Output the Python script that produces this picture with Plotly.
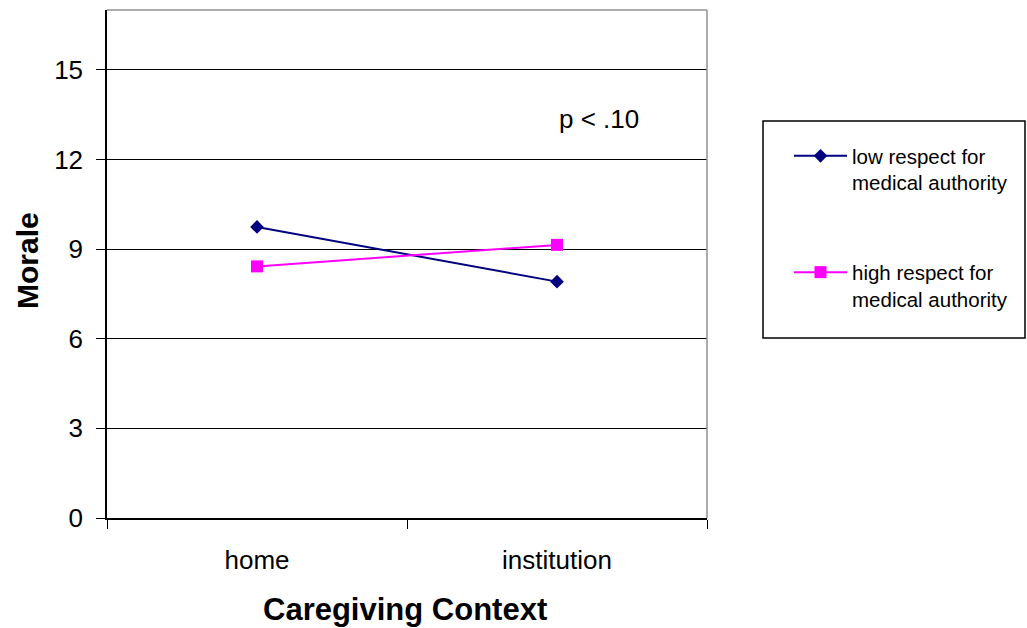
import plotly.graph_objects as go

# Caregiving context categories and mean morale for each group
contexts = ["home", "institution"]
low_respect = [9.74, 7.91]
high_respect = [8.42, 9.14]
series_names = ["low respect for<br>medical authority", "high respect for<br>medical authority"]
y_ticks = [0, 3, 6, 9, 12, 15]

FONT = "Liberation Sans, Arial, sans-serif"

fig = go.Figure()
fig.add_trace(go.Scatter(
    x=contexts, y=low_respect, name=series_names[0], mode="lines+markers",
    legendgroup="low",
    line=dict(color="#000080", width=2),
    marker=dict(symbol="diamond", size=10.5, color="#000080",
                line=dict(color="#000080", width=0)),
))
fig.add_trace(go.Scatter(
    x=contexts, y=high_respect, name=series_names[1], mode="lines+markers",
    legendgroup="high",
    line=dict(color="#FF00FF", width=2),
    marker=dict(symbol="square", size=12, color="#FF00FF",
                line=dict(color="#FF00FF", width=0)),
))

W, H = 1027, 628
L, R, T, B = 107, 320, 10, 110
PW, PH = W - L - R, H - T - B


def px(xp):
    return (xp - L) / PW


def py(yp):
    return (H - B - yp) / PH


fig.update_layout(
    width=W, height=H,
    margin=dict(l=L, r=R, t=T, b=B),
    paper_bgcolor="white", plot_bgcolor="white",
    font=dict(family=FONT, color="black"),
    showlegend=True,
    legend=dict(
        x=px(789), y=py(136), xanchor="left", yanchor="top",
        bgcolor="rgba(0,0,0,0)", borderwidth=0,
        font=dict(family=FONT, size=20.5, color="black"),
        itemwidth=53, valign="top", tracegroupgap=60,
    ),
    xaxis=dict(
        type="category", range=[-0.5, 1.5],
        tickson="boundaries", ticks="outside", ticklen=9, tickwidth=1,
        tickcolor="black", showgrid=False, zeroline=False,
        showline=True, linecolor="black", linewidth=1.5,
        tickfont=dict(family=FONT, size=26, color="black"),
        ticklabelstandoff=18,
    ),
    yaxis=dict(
        range=[0, 17], tickvals=y_ticks, ticks="outside", ticklen=9,
        tickwidth=1, tickcolor="black",
        showgrid=True, gridcolor="black", gridwidth=1, zeroline=False,
        showline=True, linecolor="black", linewidth=1.5,
        tickfont=dict(family=FONT, size=26, color="black"),
        ticklabelstandoff=8,
    ),
    shapes=[
        # plot-area frame on the top and right
        dict(type="line", xref="paper", yref="paper", x0=0, x1=1, y0=1, y1=1,
             line=dict(color="#909090", width=1.5)),
        dict(type="line", xref="paper", yref="paper", x0=1, x1=1, y0=0, y1=1,
             line=dict(color="#909090", width=1.5)),
        # legend frame
        dict(type="rect", xref="paper", yref="paper",
             x0=px(763), x1=px(1025), y0=py(338), y1=py(121),
             line=dict(color="black", width=1.5), fillcolor="rgba(0,0,0,0)"),
    ],
    annotations=[
        dict(text="p < .10", xref="paper", yref="paper", x=px(599), y=py(119),
             xanchor="center", yanchor="middle", showarrow=False,
             font=dict(family=FONT, size=26, color="black")),
        dict(text="<b>Caregiving Context</b>", xref="paper", yref="paper",
             x=px(405), y=py(609), xanchor="center", yanchor="middle",
             showarrow=False, font=dict(family=FONT, size=31, color="black")),
        dict(text="<b>Morale</b>", xref="paper", yref="paper",
             x=px(27), y=py(261), xanchor="center", yanchor="middle",
             textangle=-90, showarrow=False,
             font=dict(family=FONT, size=30, color="black")),
    ],
)

fig.write_html("out.html")
